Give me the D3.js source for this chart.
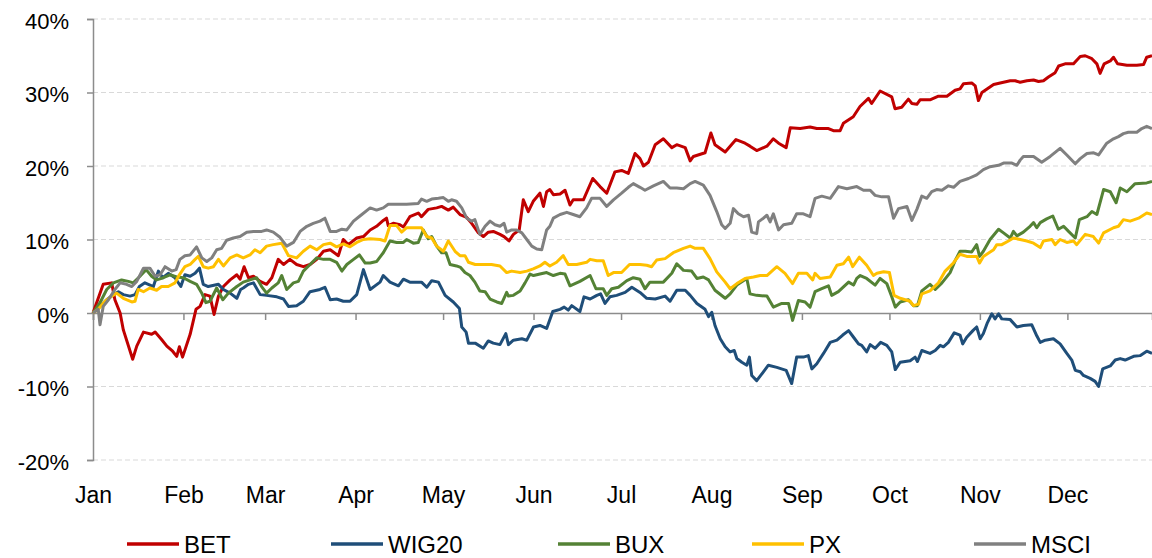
<!DOCTYPE html>
<html>
<head>
<meta charset="utf-8">
<script src="https://cdn.jsdelivr.net/npm/d3@7"></script>
<style>
  html, body { margin: 0; padding: 0; background: #fff; }
  svg { display: block; font-family: "Liberation Sans", Arial, sans-serif; }
</style>
</head>
<body>
<svg id="chart" width="1152" height="558"></svg>
<script>
// day of year (from 1 Jan 2019), % change since start of year
var bet = [
[0,0],[3.5,3.9],[6.4,4.1],[7.5,1.8],[9.3,0],[10.4,-2.3],[13.6,-6.3],[15,-4.5],[17.3,-2.6],[20.1,-2.9],[21.3,-2.6],[23.5,-3.6],[25.3,-4.5],[27.3,-5.2],[28.7,-5.9],[29.6,-4.6],[30.7,-6],[33.3,-2.9],[35.3,0.5],[36.7,0.9],[38.4,2.5],[40.1,2.3],[41.5,-0.2],[43,2.3],[44.7,3.6],[47,4.5],[49.3,5.2],[50.4,4.6],[51.8,6.3],[53.3,4.8],[55,5],[57.3,4.3],[59.5,3.9],[61.3,4.8],[63.5,7.3],[65.3,6.6],[67.5,7.3],[69.8,6.6],[72.1,6.3],[74.4,6.6],[76.7,7.3],[79,8.4],[81.3,8.6],[84.1,7.8],[85.8,10],[87.5,9.3],[90.4,10.2],[92.7,10.4],[95,11.3],
[97.2,11.8],[99.5,12.6],[100.6,12.9],[101.2,11.9],[102.9,12.2],[105.2,12],[106.4,11.7],[108.6,13.1],[111.5,13.6],[112.6,13.1],[114.9,14.1],[117.8,14.3],[119.5,14.5],[121.8,14],[123.5,14.4],[125.8,13.4],[128.1,13],[129.8,12.2],[132.1,10.9],[133.8,10.4],[135.5,11],[137.2,11.1],[139.5,10.7],[140.9,10.4],[142.6,9.8],[144.1,10.7],[146.1,11.3],[147.5,15.4],[149.2,13.8],[150.9,15.2],[153.2,16.3],[154.4,14.5],[155.5,16.5],[156.6,16.8],[157.8,16.1],[160.1,16.2],[161.8,16.7],[163.5,14.7],[164.6,15.4],[168.1,15.4],[171.3,18.3],[173.8,17.2],[176.1,16.3],[178.9,19.2],[181.2,19.4],[183.5,19],[185.8,21.7],[187.5,21],
[188.7,20],[190.4,20.5],[192.7,22.9],[195.5,23.7],[198.4,22.5],[200.1,22.9],[203,22.5],[204.7,20.7],[205.8,21.3],[209.8,21.8],[211.8,24.5],[213.2,22.9],[216.7,21.9],[220.4,23.6],[223.5,23.1],[225.2,22.7],[227.5,22.1],[231,22.7],[233.2,23.7],[235,23.1],[237.6,22.5],[239,25.2],[242.4,25.1],[245.8,25.3],[248.1,25.1],[252.1,25.1],[253.8,24.8],[256.1,24.8],[257.2,25.8],[260.6,26.7],[262.9,28.1],[265.8,29.2],[266.9,28.5],[269.8,30.2],[273.8,29.4],[274.9,27.8],[277.2,28],[279.5,29.1],[280.7,28.5],[282.4,28.4],[283.5,29],[286.9,29],[289.8,29.5],
[292.7,29.5],[295.5,30.3],[297.2,30.5],[298.4,31.2],[301.2,31.3],[302.4,30.9],[303.5,28.9],[304.7,30],[308.7,31.1],[312.1,31.4],[314.4,31.6],[316.1,31.6],[317.8,31.4],[320.1,31.6],[322.4,31.7],[324.1,31.5],[325.8,31.6],[327.5,32.1],[329.8,32.7],[331,33.6],[333.2,33.9],[336.1,33.9],[337.2,34.4],[338.4,34.9],[340.1,35],[342.4,34.6],[344.1,33.9],[345.2,32.6],[346.6,33.9],[348.7,34.3],[349.8,34.8],[351.2,33.9],[354.4,33.7],[357.8,33.7],[360.1,33.8],[361.2,34.8],[363,35]
];

var wig20 = [
[0,0],[2.4,0.9],[4.7,1.8],[7,2.5],[8.7,2.9],[10.4,2.5],[12.7,2.3],[14.4,2.5],[15.9,3.6],[17.8,4.1],[20.7,3.6],[22.4,5.7],[23.9,4.8],[25.8,5.4],[28.1,4.8],[30.1,3.6],[31.5,5.2],[33.3,5],[35,5.4],[36.5,6.1],[37.8,3.9],[39.5,3.6],[43,3.9],[44.7,3.2],[47,2.7],[49.3,2],[50.6,3.2],[51.5,3.4],[53.3,3.9],[55,4.1],[57.3,2.5],[59.5,2.4],[63,2.2],[65.3,1.9],[67,0.9],[69.8,1],[72.1,1.6],[74.4,2.9],[77.8,3.2],[79.5,3.5],[81.3,1.8],[83.5,1.9],[85.8,1.6],[88.1,1.6],[90.4,2.5],[92.7,5.9],[95,3.2],
[98.4,4.2],[99.5,5.1],[101.8,4.2],[104.7,3.7],[106.4,4.6],[108.6,4.2],[112.6,4.2],[114.4,3.5],[116.1,4.4],[118.4,4.2],[120.7,2.4],[123.5,1.5],[125.6,0.6],[126.4,-1.9],[127.9,-2.6],[128.7,-4.1],[131,-4.1],[133.8,-4.8],[135.5,-3.8],[137.2,-4.1],[139.5,-4.3],[141.5,-2.8],[142.4,-4.3],[144.1,-3.7],[147,-3.5],[148.7,-3.7],[151,-1.9],[153.2,-1.7],[155.5,-2.1],[157.6,0.2],[160.1,0.5],[161.5,0.8],[162.9,0.4],[164.1,1],[166.9,0.2],[168.3,2.2],[170.4,1.9],[172.7,2.4],[174,2.6],[175.5,1.3],[177.2,2.2],[179.5,2.4],[182.4,2.8],[184.7,3.5],[187.5,2.8],
[189.8,2],[192.7,1.9],[196.1,2.3],[197.8,1.6],[200.1,3.1],[203,3.1],[204.7,2.4],[207,1.3],[209.8,0.5],[211,-0.5],[212.1,0.1],[213.2,-1.7],[215,-3.5],[216.7,-4.6],[218.4,-5.3],[219.8,-5.1],[220.7,-6.2],[222.4,-6.7],[224.1,-7.1],[225,-6],[225.8,-8.5],[227.5,-9.2],[229.8,-8],[231.5,-7.1],[234.4,-7.4],[237.6,-7.8],[239.5,-9.6],[241.2,-6],[243.5,-6],[245.2,-5.8],[246.4,-7.6],[248.1,-6.9],[250.4,-5.5],[252.7,-4],[255,-3.7],[257,-3],[259,-2.4],[260.7,-3.3],[262.4,-4.2],[263.5,-4.4],[265.2,-5.3],[266.4,-4.3],[268.1,-4.8],[270,-4],[272.1,-4.4],[273.8,-5.3],[275,-7.7],[276.7,-6.7],[280.1,-6.5],
[281.8,-6],[282.6,-6.6],[284.1,-5.1],[286.9,-5.5],[288.7,-5.1],[290.4,-4.4],[291.5,-4.6],[293.2,-4],[295.2,-2.7],[297.2,-3],[298.1,-4.2],[299.5,-3.3],[301.6,-2.4],[302.9,-1.9],[304.1,-3.5],[305.2,-2.8],[306.6,-1.3],[308.1,-0.1],[309.2,-0.8],[310.4,-0.1],[311.5,-0.8],[314.4,-0.9],[316.7,-1.9],[318.9,-1.7],[321.8,-1.6],[323.5,-3.1],[324.7,-4],[326.4,-3.7],[329.2,-3.5],[331.5,-4.2],[333.8,-5.5],[335.5,-6.4],[336.7,-7.8],[338.4,-8],[339.5,-8.5],[341.8,-8.9],[343.5,-9.3],[344.7,-10],[346.1,-7.6],[348.7,-7.2],[350.4,-6.4],[352.1,-6.2],[353.8,-6.4],[356.7,-5.9],[358.9,-5.8],[361.2,-5.2],[363,-5.5]
];

var bux = [
[0,0],[2.4,1.4],[4.7,3.2],[7,4.1],[9.8,4.5],[12.1,4.3],[13.8,4.1],[16.1,5],[18.2,5.9],[20.1,5],[21.8,4.5],[24.1,4.8],[26.4,5.2],[28.7,4.9],[31,4.8],[33.3,4.3],[35.5,3.9],[37.3,2.7],[38.7,1.4],[40.1,1.6],[42.4,3.4],[44.5,1.8],[46.4,2.7],[49.3,3.6],[51.5,4.2],[53.8,4.5],[56.1,4.8],[57.8,3.6],[59.5,2.7],[61.3,3.4],[63.5,4.1],[64.7,5.1],[66.4,3.2],[68.7,4.1],[70.4,4.3],[72.1,5.7],[74.4,6.6],[76.7,7.5],[79,7.3],[81.3,7.3],[83.5,6.9],[85.3,5.7],[87,6.6],[89.3,7.3],[91.3,7.9],[93.3,6.8],[95,6.8],
[97.2,7],[99.5,8.2],[101.8,9.8],[104.1,9.6],[106.4,9.6],[107.5,10],[109.8,9.5],[111.5,9.6],[113.2,11.3],[114.9,10.1],[116.1,10.4],[117.8,9.1],[119.5,8.2],[121,8.2],[122.4,6.6],[124.6,6.4],[126,6.2],[127.5,5.5],[129.2,5.1],[130.9,4.2],[132.6,3],[134.4,2.9],[136.1,1.9],[138.4,1.5],[140.1,1.3],[141.8,2.8],[142.4,2.3],[144.1,2.4],[146.4,3],[148.1,4.1],[149.8,5.3],[151,5.1],[153.2,5.3],[155.5,5.5],[157.8,5.1],[160.1,5.4],[161.8,5.3],[163.5,3.7],[166.9,4.3],[170.4,5.1],[172.4,3.3],[174.9,3.3],[176.1,2.4],[177.8,3.3],[180.1,3.5],[183,4.4],[185.2,4.8],[187.5,4.6],
[189.2,3.3],[190.9,4.2],[193.2,4.2],[195.5,4.2],[198.4,5.4],[200.1,6.7],[202.4,5.8],[205.2,5.7],[207,4.7],[209.2,4.9],[211,4.5],[213.2,3.1],[216.7,2],[218.4,2.6],[220.7,3.8],[224.1,4.7],[225.2,2.6],[227.5,2.4],[231,2.3],[233.2,0.8],[236.1,1.3],[238.4,1.3],[239.8,-1],[241.8,1.7],[244.1,1.5],[245.8,0.8],[247.5,2.9],[249.8,3.3],[252.1,3.7],[253.2,2.4],[255.5,2.9],[259,4.2],[260.7,3.8],[261.8,4.7],[263,5.1],[265.2,4.7],[268.1,3.8],[269.8,4.7],[272.1,4],[273.8,2.2],[275,0.8],[276.7,1.5],[279.5,1.8],
[281.2,1],[282.6,1],[284.1,3],[286.9,3.9],[288.7,3.2],[291,4.1],[293.8,5.5],[295.5,7.1],[297.2,8.4],[299,8.4],[301.2,8.3],[302.9,9.3],[303.9,7.7],[305.2,8.4],[307.5,10],[310.4,11.4],[312.1,10.9],[314.4,10.2],[315.5,11.1],[316.7,10.5],[318.9,11],[321.2,11.8],[322.4,12.3],[323.5,11.6],[324.7,12.3],[326.9,12.8],[329,13.2],[330.9,11.4],[332.7,11.8],[334.4,11.1],[336.7,10.2],[338.1,12.7],[340.7,13.1],[342.4,13.8],[344.1,13.4],[346.4,16.8],[348.7,16.5],[350.7,15],[352.1,17],[354.4,16.5],[357.2,17.6],[361.2,17.7],[363,17.9]
];

var px = [
[0,0],[1.8,0.5],[4.1,1.6],[6.4,2.3],[8.1,2.7],[10.4,2],[13.3,1.5],[14.4,1.6],[15.5,3.2],[17.3,2.9],[19.5,3.4],[21.8,3.1],[23.5,3.6],[25.8,3.6],[28.1,4.1],[29.6,5.2],[31.5,6.3],[33.3,6.6],[35,7.3],[36.1,7.7],[37.8,6.3],[39.5,6.1],[41.3,6.3],[43,7.3],[44.7,6.4],[47,7.5],[49.3,7.9],[51.5,7.5],[53.8,7.9],[55.5,8.6],[57.3,8.2],[59.5,9.1],[61.8,9.3],[64.7,9.5],[67,7.8],[69.8,7.5],[72.1,8.4],[74.4,9.1],[76.7,8.6],[79,9.3],[81.3,9.5],[83.5,9],[85.8,9.4],[88.1,9],[90.4,9.6],[92.7,10],[95,10.1],
[98.4,10],[100.1,9.8],[101.8,11.9],[104.1,11.9],[105.8,11],[107.5,11.6],[109.8,11.6],[112.6,11.6],[114.4,10.4],[116.1,10.2],[117.8,9.1],[120.1,8.4],[121.8,9.8],[124.1,8.4],[125.8,7.8],[127.5,7.8],[128.7,6.9],[131,6.6],[133.8,6.6],[136.6,6.6],[139.5,6.4],[141.8,5.5],[143.5,5.7],[146.4,5.5],[148.7,5.7],[150.9,6],[153.2,6.4],[154.9,6.9],[156.6,6.4],[158.9,6.9],[161.2,7.8],[162.9,6.6],[165.8,6.6],[169.2,6.9],[170.4,7.3],[172.7,7.1],[174.9,7.1],[176.6,5.1],[178.4,5.5],[181.2,5.5],[183.9,6.6],[187.5,6.6],
[189.8,6.5],[191.5,6.3],[193.2,7.2],[196.1,7.4],[198.9,8.2],[202.4,8.8],[204.7,9.1],[206.4,8.8],[209.2,8.8],[211.5,7.4],[213.8,5.6],[216.7,4.2],[218.4,3.3],[220.7,4],[223.5,4.7],[226.4,4.9],[228.7,5.1],[231,5.1],[234.4,6.3],[237.2,5.4],[239.8,4],[241.8,5.4],[244.7,5.4],[246.7,4.5],[247.5,5.4],[249.2,4.7],[252.7,4.9],[255,6.5],[257.2,6.7],[259,7.6],[260.4,6.3],[262.7,7.6],[265.2,6.5],[267.5,5.1],[268.7,5.4],[271,5.6],[273,5.5],[274.6,2.4],[276.7,2],[280.1,1.6],
[281.2,1],[283,1.2],[284.1,2.6],[286.9,3],[289.8,4.1],[292.1,5.7],[294.9,6.8],[297.2,8],[299.5,7.7],[302.9,7.7],[303.9,6.8],[305.2,7.7],[308.7,8.6],[309.8,9.3],[311.5,9.3],[313.8,9.8],[315.5,10.2],[317.8,10],[320.1,9.8],[322.4,9.5],[324.7,8.9],[325.8,9.8],[328.7,10],[329.8,9.3],[331.5,10],[333.8,9.6],[336.1,9.8],[337.2,9.3],[340.1,10.7],[342.9,10.4],[344.7,9.5],[346.4,10.9],[349.8,11.6],[351.5,11.8],[353.2,12.7],[355.5,12.5],[358.4,12.9],[361.2,13.6],[363,13.4]
];

var msci = [
[0,0],[1.8,0.5],[2.4,-1.6],[3.5,0.9],[5.3,1.8],[7.5,3.2],[9.3,4.1],[11.5,3.9],[13.3,3.6],[15,4.3],[17.3,6.1],[19.5,6.1],[21.3,5],[23,5.2],[24.7,6.3],[27,5.7],[28.5,5.9],[29.8,7.3],[31.5,7.8],[33.3,7.9],[35.5,9],[37.3,7.5],[39,7],[40.7,7.5],[42.4,8.6],[44.1,8.8],[45.8,9.9],[48.1,10.2],[50.4,10.4],[52.7,11],[55,11.1],[57.8,11.1],[59.5,11.3],[61.8,11],[64.1,10.3],[66.4,9.1],[68.7,9.6],[71,11.1],[73.3,11.8],[75.5,12.2],[77.8,12.5],[79.5,12.9],[81.3,11.1],[83.5,11.1],[85.3,11.4],[87,11.3],[89.3,12.5],[91.5,13.2],[95,14.3],
[97.2,14],[99.5,14.3],[101.2,14.8],[104.1,14.8],[107.5,14.8],[111.5,14.9],[112.6,15.5],[114.4,15.2],[116.1,15.5],[118.4,15.6],[120.1,15.7],[121.8,15.2],[122.9,15.4],[124.6,15.2],[126.4,14.3],[128.1,12.9],[129.8,12.5],[130.9,12.7],[132.6,10.7],[134.4,11.8],[136.1,12.5],[137.8,12],[139.5,11.8],[140.9,12.2],[141.8,11],[143.5,11.3],[145.2,11.3],[147,10.9],[148.7,10],[150.4,9.1],[152.1,8.7],[153.8,8.6],[155.5,11.3],[156.6,11.8],[157.8,12.9],[160.1,13.4],[162.4,13.7],[164.6,13.4],[166.9,13.1],[169.2,14.3],[170.9,15.6],[173.8,15.6],[176.1,14.5],[178.4,15.4],[181.2,16.3],[183.5,17.1],[185.2,17.6],[187.5,17.1],
[189.2,16.7],[192.1,17.3],[195.5,17.9],[197.8,17],[200.1,17],[202.4,16.9],[204.7,17.6],[206.4,17.9],[209.2,17.4],[211.5,16],[213.8,13.8],[215.5,12],[216.7,11.5],[218.4,12.2],[219.5,14.2],[221.2,13.5],[223,13.1],[224.7,13.3],[225.2,12.3],[225.8,11],[227.5,10.8],[228.1,12.4],[229.8,12.9],[231,13.3],[232.1,12.4],[233.2,13.5],[235,11.3],[236.7,12],[239.5,12.2],[241.2,13.5],[243.5,13.5],[245.8,13.1],[247.5,15.6],[249.8,15.9],[252.7,15.6],[255.5,17.2],[258.4,16.9],[261.8,17.2],[264.1,16.7],[266.4,16.7],[268.1,16],[270.4,15.8],[272.7,15.8],[274.4,12.9],[276.1,14.2],[279,14.5],[280.7,12.6],
[282.4,14.1],[284.1,15.9],[285.8,15.6],[287.5,16.5],[289.2,16.8],[291,16.7],[293.2,17.3],[295,17.1],[297.2,17.9],[300.1,18.3],[302.9,18.8],[305.2,19.5],[307.5,19.9],[310.4,20.1],[312.1,20.4],[315,20.4],[316.7,20.1],[317.8,20.8],[318.9,21.3],[322.4,21.3],[325.2,20.5],[328.1,21.3],[331.5,22.4],[333.8,21.5],[336.7,20.3],[338.4,21],[340.7,21.7],[343,21.8],[344.7,21.5],[347.5,23.1],[349.8,23.7],[351.5,24],[353.2,24.4],[354.9,24.6],[357.8,24.6],[359.5,25.1],[361.2,25.4],[363,25.1]
];

var seriesNames = ["BET", "WIG20", "BUX", "PX", "MSCI"];
var seriesData = [bet, wig20, bux, px, msci];
var seriesColors = ["#c00000", "#1f4e79", "#548235", "#ffc000", "#808080"];
var yTicks = [-20, -10, 0, 10, 20, 30, 40];
var legendX = [127, 331, 558, 752, 974];

var start = new Date(2019, 0, 1);
function toDate(d) { return new Date(start.getTime() + d * 864e5); }

var svg = d3.select("#chart");

var x = d3.scaleTime().domain([start, toDate(363)]).range([93, 1152]);
var y = d3.scaleLinear().domain([-20, 40]).range([460, 19]);

// dashed gridlines
svg.append("g").selectAll("line")
  .data(yTicks.filter(function(t){ return t !== 0; }))
  .enter().append("line")
  .attr("x1", 93).attr("x2", 1152)
  .attr("y1", function(d){ return y(d); })
  .attr("y2", function(d){ return y(d); })
  .attr("stroke", "#d9d9d9")
  .attr("stroke-width", 1.2)
  .attr("stroke-dasharray", "5,3");

// y axis
var yAxis = svg.append("g")
  .attr("transform", "translate(93,0)")
  .call(d3.axisLeft(y).tickValues(yTicks).tickSize(6).tickPadding(18)
    .tickFormat(function(d){ return d + "%"; }));
yAxis.select(".domain").attr("stroke", "#8c8c8c").attr("stroke-width", 1.5);
yAxis.selectAll(".tick line").attr("stroke", "#8c8c8c").attr("stroke-width", 1.5);
yAxis.selectAll("text").attr("font-size", 22).attr("fill", "#000")
  .attr("font-family", "Liberation Sans, Arial, sans-serif").attr("dy", "0.42em");

// month labels along the bottom
var mAxis = svg.append("g")
  .attr("transform", "translate(0,460)")
  .call(d3.axisBottom(x).ticks(d3.timeMonth.every(1)).tickSize(0).tickPadding(27)
    .tickFormat(d3.timeFormat("%b")));
mAxis.select(".domain").remove();
mAxis.selectAll("text").attr("font-size", 23).attr("fill", "#000")
  .attr("font-family", "Liberation Sans, Arial, sans-serif");

// series lines
var line = d3.line()
  .x(function(d){ return x(toDate(d[0])); })
  .y(function(d){ return y(d[1]); });

svg.append("g").selectAll("path")
  .data(seriesData)
  .enter().append("path")
  .attr("d", line)
  .attr("fill", "none")
  .attr("stroke", function(d, i){ return seriesColors[i]; })
  .attr("stroke-width", 3)
  .attr("stroke-linejoin", "round");

// x axis at zero, ticks at month starts
var xAxis = svg.append("g")
  .attr("transform", "translate(0," + y(0) + ")")
  .call(d3.axisBottom(x).ticks(d3.timeMonth.every(1)).tickSize(7).tickFormat(""));
xAxis.select(".domain").attr("stroke", "#8c8c8c").attr("stroke-width", 1.5);
xAxis.selectAll(".tick line").attr("stroke", "#8c8c8c").attr("stroke-width", 1.5);
xAxis.lower();

// legend
var legend = svg.append("g").selectAll("g")
  .data(seriesNames)
  .enter().append("g")
  .attr("transform", function(d, i){ return "translate(" + legendX[i] + ",544)"; });
legend.append("line")
  .attr("x1", 0).attr("x2", 52).attr("y1", 0).attr("y2", 0)
  .attr("stroke", function(d, i){ return seriesColors[i]; })
  .attr("stroke-width", 3.5);
legend.append("text")
  .attr("x", 57).attr("y", 9)
  .attr("font-size", 24)
  .attr("fill", "#000")
  .text(function(d){ return d; });
</script>
</body>
</html>
